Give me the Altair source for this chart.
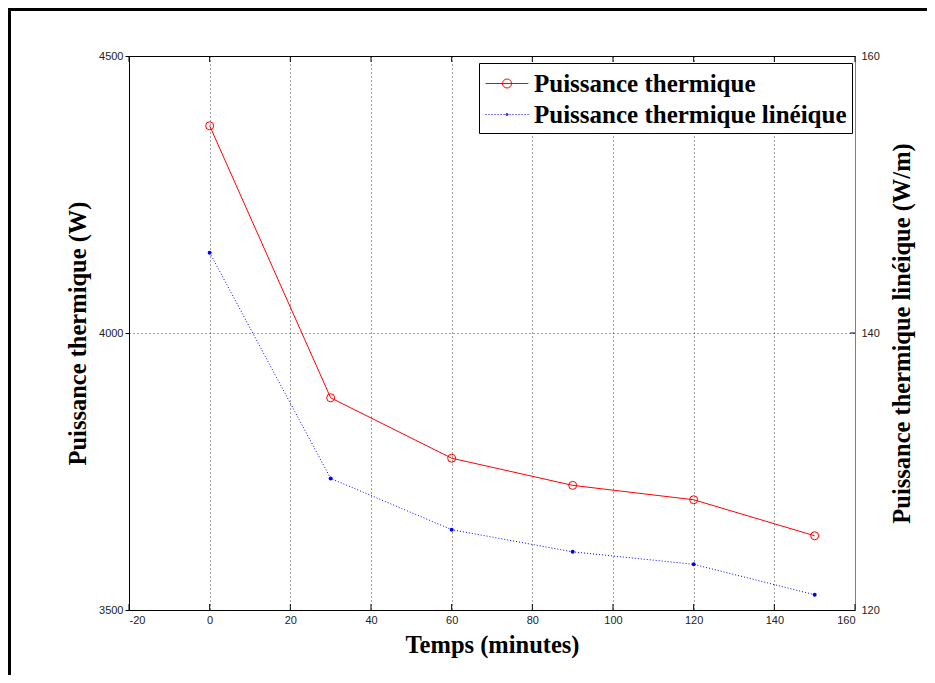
import altair as alt
import pandas as pd

# ---- data ----
temps = [0, 30, 60, 90, 120, 150]
puissance = [4374, 3883, 3774, 3725, 3699, 3634]
puissance_lineique = [145.8, 129.5, 125.8, 124.2, 123.3, 121.1]
series = ["Puissance thermique", "Puissance thermique linéique"]
x_ticks = [-20, 0, 20, 40, 60, 80, 100, 120, 140, 160]
y_left_ticks = [3500, 4000, 4500]
y_right_ticks = [120, 140, 160]
right_inner_ticks = [140]

df = pd.DataFrame({"t": temps, "p": puissance, "pl": puissance_lineique})
leg = pd.DataFrame({"serie": series})
xt = pd.DataFrame({"x": x_ticks})
yrt = pd.DataFrame({"v": right_inner_ticks})
one = pd.DataFrame({"k": [0]})

W, H = 726, 554
PAD = {"left": 121, "top": 48, "right": 72, "bottom": 65}
serif = "Liberation Serif"
sans = "Liberation Sans"
X_TITLE = "Temps (minutes)"
YL_TITLE = "Puissance thermique (W)"
YR_TITLE = "Puissance thermique linéique (W/m)"
PLAIN = "'' + datum.value"

# legend symbols (line + marker) as custom paths
half = 1.43
sh = 0.5
red_path = (f"M{-half + sh:.3f},0L{half + sh:.3f},0"
            f"M{sh + 0.3:.3f},0A0.3,0.3,0,1,1,{sh - 0.3:.3f},0A0.3,0.3,0,1,1,{sh + 0.3:.3f},0")
dots = []
v = -half
while v < half:
    dots.append(f"M{v + sh:.3f},0L{v + sh + 0.067:.3f},0")
    v += 0.2
blue_path = "".join(dots) + (f"M{sh + 0.07:.3f},0A0.07,0.07,0,1,1,{sh - 0.07:.3f},0"
                             f"A0.07,0.07,0,1,1,{sh + 0.07:.3f},0")

xscale = alt.Scale(domain=[-20, 160], nice=False, zero=False)
x_axis = alt.Axis(values=x_ticks, title=X_TITLE, grid=True, tickSize=0,
                  labelPadding=4, titlePadding=8, labelExpr=PLAIN)

x_enc = alt.X("t:Q", scale=xscale, axis=x_axis)

left_y = alt.Y("p:Q", scale=alt.Scale(domain=[3500, 4500], nice=False, zero=False),
               axis=alt.Axis(values=y_left_ticks, title=YL_TITLE, grid=True,
                             tickSize=4, labelPadding=2, titlePadding=8,
                             labelExpr=PLAIN))

red = alt.Chart(df).mark_line(
    color="#ff0000", strokeWidth=1,
    point=alt.OverlayMarkDef(shape="circle", filled=False, size=64,
                             color="#ff0000", strokeWidth=1)
).encode(x=x_enc, y=left_y)

top_ticks = alt.Chart(xt).mark_rule(color="black", strokeWidth=1).encode(
    x=alt.X("x:Q", scale=xscale, title=X_TITLE),
    y=alt.value(0), y2=alt.value(6))
bottom_ticks = alt.Chart(xt).mark_rule(color="black", strokeWidth=1).encode(
    x=alt.X("x:Q", scale=xscale, title=X_TITLE),
    y=alt.value(H - 6), y2=alt.value(H))

frame_left = alt.Chart(one).mark_rule(color="black", strokeWidth=3).encode(
    x=alt.value(-PAD["left"] + 1.5), y=alt.value(-PAD["top"]),
    y2=alt.value(H + PAD["bottom"]))
frame_top = alt.Chart(one).mark_rule(color="black", strokeWidth=3).encode(
    y=alt.value(-PAD["top"] + 1.5), x=alt.value(-PAD["left"]),
    x2=alt.value(W + PAD["right"]))

left_group = alt.layer(red, top_ticks, bottom_ticks, frame_left, frame_top)

rscale = alt.Scale(domain=[120, 160], nice=False, zero=False)
right_y = alt.Y("pl:Q", scale=rscale,
                axis=alt.Axis(orient="right", values=y_right_ticks, title=YR_TITLE,
                              grid=False, tickSize=0, labelPadding=6, titlePadding=11,
                              titleAngle=270, titleBaseline="top",
                              domain=True, domainColor="#808080", labelExpr=PLAIN))

blue = alt.Chart(df).mark_line(
    color="#0000ff", strokeWidth=1, strokeDash=[1, 2],
    point=alt.OverlayMarkDef(shape="circle", filled=True, size=16, color="#0000ff")
).encode(x=x_enc, y=right_y)

right_ticks = alt.Chart(yrt).mark_rule(color="black", strokeWidth=1).encode(
    y=alt.Y("v:Q", scale=rscale, title=YR_TITLE),
    x=alt.value(W - 5), x2=alt.value(W))

legend = alt.Legend(
    title=None, orient="none", legendX=350, legendY=7, direction="vertical",
    strokeColor="black", fillColor="white", padding=5, cornerRadius=0,
    labelFont=serif, labelFontSize=25, labelFontWeight="bold", labelColor="black",
    labelLimit=500, labelOffset=19, symbolSize=900, symbolStrokeWidth=1,
    symbolOpacity=1, rowPadding=2)

legend_layer = alt.Chart(leg).mark_point(opacity=0, filled=False).encode(
    color=alt.Color("serie:N", scale=alt.Scale(domain=series, range=["#ff0000", "#0000ff"]),
                    legend=legend),
    shape=alt.Shape("serie:N", scale=alt.Scale(domain=series, range=[red_path, blue_path]),
                    legend=legend),
)

right_group = alt.layer(blue, right_ticks, legend_layer)

chart = alt.layer(left_group, right_group).resolve_scale(y="independent").properties(
    width=W, height=H,
    padding=PAD,
    autosize=alt.AutoSizeParams(type="none"),
    background="white",
).configure_view(
    stroke="black", strokeWidth=1
).configure_axis(
    labelFont=sans, labelFontSize=11, labelColor="#222",
    titleFont=serif, titleFontSize=24.5, titleFontWeight="bold", titleColor="black",
    gridColor="#000", gridDash=[1, 3], gridOpacity=0.75, gridWidth=1,
    domain=False, tickColor="black",
)

chart.save("out.html", embed_options={"renderer": "svg", "actions": False})
